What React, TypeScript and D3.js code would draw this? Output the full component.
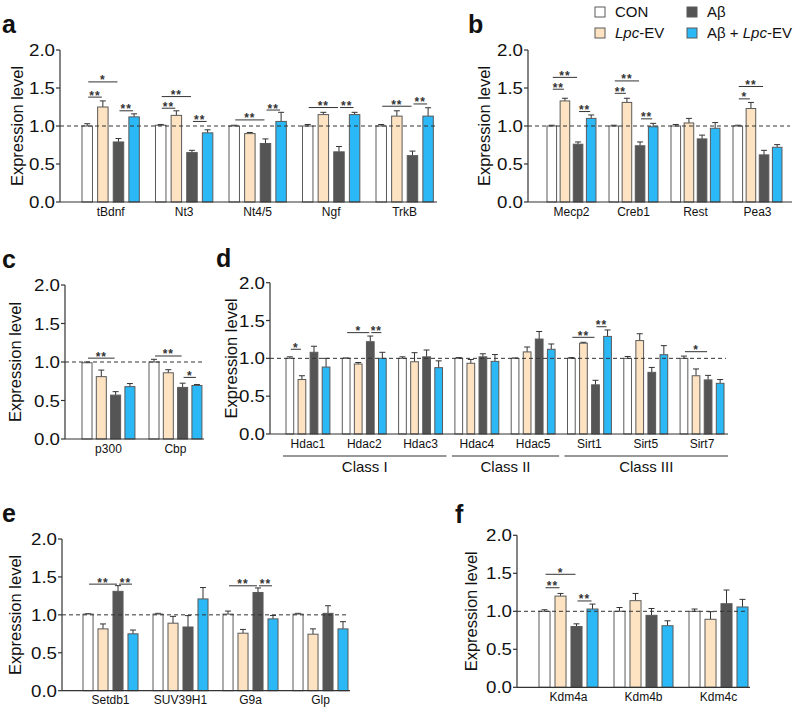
import React from "react";
import * as d3 from "d3";

const FONT = "'Liberation Sans', Arial, Helvetica, sans-serif";
const SERIES = ["CON", "Lpc-EV", "Aβ", "Aβ + Lpc-EV"];
const FILLS = ["#ffffff", "#fde3c1", "#555555", "#2ab8f6"];
const STROKE = "#5a5a5a";
const INK = "#333333";
const TICKS = [0, 0.5, 1, 1.5, 2];

// ---------- Panel a ----------
const aCats = ["tBdnf", "Nt3", "Nt4/5", "Ngf", "TrkB"];
const aMeans = [
  [1.0, 1.01, 1.0, 1.0, 1.0],
  [1.25, 1.14, 0.9, 1.15, 1.13],
  [0.79, 0.65, 0.77, 0.66, 0.61],
  [1.12, 0.91, 1.06, 1.15, 1.13],
];
const aErrs = [
  [0.03, 0.01, 0.01, 0.02, 0.02],
  [0.08, 0.06, 0.015, 0.03, 0.07],
  [0.045, 0.03, 0.06, 0.07, 0.06],
  [0.04, 0.04, 0.12, 0.03, 0.11],
];
const aSig: [number, number, number, number, string][] = [
  [0, 0, 2, 1.58, "*"], [0, 0, 1, 1.38, "**"], [0, 2, 3, 1.2, "**"],
  [1, 0, 2, 1.387, "**"], [1, 0, 1, 1.234, "**"], [1, 2, 3, 1.06, "**"],
  [2, 0, 2, 1.08, "**"], [2, 2, 3, 1.21, "**"],
  [3, 0, 2, 1.243, "**"], [3, 2, 3, 1.243, "**"],
  [4, 0, 2, 1.26, "**"], [4, 2, 3, 1.29, "**"],
];

// ---------- Panel b ----------
const bCats = ["Mecp2", "Creb1", "Rest", "Pea3"];
const bMeans = [
  [1.0, 1.0, 1.0, 1.0],
  [1.33, 1.31, 1.04, 1.23],
  [0.76, 0.74, 0.83, 0.62],
  [1.1, 0.99, 0.97, 0.72],
];
const bErrs = [
  [0.01, 0.01, 0.02, 0.01],
  [0.035, 0.055, 0.06, 0.08],
  [0.03, 0.05, 0.05, 0.06],
  [0.045, 0.045, 0.075, 0.035],
];
const bSig: [number, number, number, number, string][] = [
  [0, 0, 1, 1.484, "**"], [0, 0, 2, 1.64, "**"], [0, 2, 3, 1.19, "**"],
  [1, 0, 1, 1.43, "**"], [1, 0, 2, 1.593, "**"], [1, 2, 3, 1.094, "**"],
  [3, 0, 1, 1.357, "*"], [3, 0, 2, 1.52, "**"],
];

// ---------- Panel c ----------
const cCats = ["p300", "Cbp"];
const cMeans = [
  [0.99, 1.0],
  [0.81, 0.86],
  [0.57, 0.67],
  [0.68, 0.695],
];
const cErrs = [
  [0.01, 0.035],
  [0.085, 0.04],
  [0.045, 0.055],
  [0.04, 0.012],
];
const cSig: [number, number, number, number, string][] = [
  [0, 0, 2, 1.05, "**"], [1, 0, 2, 1.078, "**"], [1, 2, 3, 0.8, "*"],
];

// ---------- Panel d ----------
const dCats = ["Hdac1", "Hdac2", "Hdac3", "Hdac4", "Hdac5", "Sirt1", "Sirt5", "Sirt7"];
const dMeans = [
  [1.0, 1.0, 1.0, 1.0, 1.0, 1.0, 1.0, 1.0],
  [0.72, 0.925, 0.955, 0.935, 1.085, 1.2, 1.235, 0.77],
  [1.08, 1.22, 1.02, 1.02, 1.255, 0.65, 0.815, 0.715],
  [0.885, 1.0, 0.877, 0.96, 1.12, 1.29, 1.048, 0.67],
];
const dErrs = [
  [0.02, 0.005, 0.02, 0.01, 0.005, 0.01, 0.025, 0.03],
  [0.05, 0.02, 0.12, 0.05, 0.065, 0.012, 0.09, 0.09],
  [0.08, 0.075, 0.09, 0.04, 0.1, 0.06, 0.065, 0.06],
  [0.115, 0.08, 0.09, 0.09, 0.07, 0.085, 0.12, 0.05],
];
const dSig: [number, number, number, number, string][] = [
  [0, 0, 1, 1.12, "*"], [1, 0, 2, 1.34, "*"], [1, 2, 3, 1.34, "**"],
  [5, 0, 2, 1.278, "**"], [5, 2, 3, 1.418, "**"], [7, 0, 2, 1.088, "*"],
];
const dClasses = ["Class I", "Class II", "Class III"];
const dClassSpans = [[0, 2], [3, 4], [5, 7]];

// ---------- Panel e ----------
const eCats = ["Setdb1", "SUV39H1", "G9a", "Glp"];
const eMeans = [
  [1.01, 1.01, 1.01, 1.01],
  [0.815, 0.89, 0.758, 0.745],
  [1.31, 0.84, 1.295, 1.02],
  [0.75, 1.21, 0.947, 0.815],
];
const eErrs = [
  [0.005, 0.01, 0.04, 0.01],
  [0.065, 0.09, 0.05, 0.07],
  [0.075, 0.15, 0.06, 0.1],
  [0.05, 0.15, 0.045, 0.095],
];
const eSig: [number, number, number, number, string][] = [
  [0, 0, 2, 1.405, "**"], [0, 2, 3, 1.405, "**"],
  [2, 0, 2, 1.383, "**"], [2, 2, 3, 1.383, "**"],
];

// ---------- Panel f ----------
const fCats = ["Kdm4a", "Kdm4b", "Kdm4c"];
const fMeans = [
  [1.0, 1.0, 1.0],
  [1.2, 1.14, 0.895],
  [0.8, 0.947, 1.1],
  [1.03, 0.81, 1.057],
];
const fErrs = [
  [0.02, 0.05, 0.03],
  [0.035, 0.095, 0.1],
  [0.035, 0.09, 0.18],
  [0.065, 0.065, 0.1],
];
const fSig: [number, number, number, number, string][] = [
  [0, 0, 2, 1.487, "*"], [0, 0, 1, 1.31, "**"], [0, 2, 3, 1.136, "**"],
];

interface PanelCfg {
  letter: string; lx: number; ly: number;
  cats: string[]; means: number[][]; errs: number[][];
  sig: [number, number, number, number, string][];
  axisX: number; axisEnd: number; y0: number; y2: number;
  bandStart: number; step: number; pad: number; innerPad: number;
  titleX: number;
  classes?: string[]; classSpans?: number[][];
}

const panels: PanelCfg[] = [
  { letter: "a", lx: 2, ly: 33, cats: aCats, means: aMeans, errs: aErrs, sig: aSig,
    axisX: 60, axisEnd: 437, y0: 202, y2: 50, bandStart: 82, step: 73.5, pad: 0.22, innerPad: 0.33, titleX: 17 },
  { letter: "b", lx: 468, ly: 33, cats: bCats, means: bMeans, errs: bErrs, sig: bSig,
    axisX: 528, axisEnd: 792, y0: 202, y2: 50, bandStart: 547, step: 62, pad: 0.21, innerPad: 0.27, titleX: 484 },
  { letter: "c", lx: 2, ly: 268, cats: cCats, means: cMeans, errs: cErrs, sig: cSig,
    axisX: 65, axisEnd: 204, y0: 439, y2: 285, bandStart: 82, step: 67, pad: 0.21, innerPad: 0.3, titleX: 15 },
  { letter: "d", lx: 216, ly: 267, cats: dCats, means: dMeans, errs: dErrs, sig: dSig,
    axisX: 270, axisEnd: 728, y0: 434, y2: 282.7, bandStart: 286, step: 56.3, pad: 0.22, innerPad: 0.36, titleX: 231,
    classes: dClasses, classSpans: dClassSpans },
  { letter: "e", lx: 2, ly: 522, cats: eCats, means: eMeans, errs: eErrs, sig: eSig,
    axisX: 62, axisEnd: 350, y0: 690.7, y2: 539, bandStart: 83, step: 70, pad: 0.214, innerPad: 0.33, titleX: 15 },
  { letter: "f", lx: 455, ly: 523, cats: fCats, means: fMeans, errs: fErrs, sig: fSig,
    axisX: 517, axisEnd: 750, y0: 687.3, y2: 535.3, bandStart: 539, step: 75, pad: 0.213, innerPad: 0.31, titleX: 471 },
];

function Panel({ c }: { c: PanelCfg }) {
  const y = d3.scaleLinear().domain([0, 2]).range([c.y0, c.y2]);
  const n = c.cats.length;
  const x = d3.scaleBand<string>()
    .domain(c.cats)
    .range([c.bandStart, c.bandStart + c.step * (n - c.pad)])
    .paddingInner(c.pad)
    .paddingOuter(0);
  const xi = d3.scaleBand<string>()
    .domain(SERIES)
    .range([0, x.bandwidth()])
    .paddingInner(c.innerPad)
    .paddingOuter(0);
  const bw = xi.bandwidth();
  const fmt = d3.format(".1f");
  const barCenter = (ci: number, si: number) =>
    (x(c.cats[ci]) as number) + (xi(SERIES[si]) as number) + bw / 2;

  return (
    <g>
      <text x={c.lx} y={c.ly} fontFamily={FONT} fontWeight="bold" fontSize={25} fill="#111">{c.letter}</text>
      {c.cats.map((cat, ci) =>
        SERIES.map((s, si) => {
          const v = c.means[si][ci];
          const e = c.errs[si][ci];
          const bx = (x(cat) as number) + (xi(s) as number);
          const cx = bx + bw / 2;
          return (
            <g key={cat + s}>
              <line x1={cx} x2={cx} y1={y(v)} y2={y(v + e)} stroke={INK} strokeWidth={1} />
              <line x1={cx - 3} x2={cx + 3} y1={y(v + e)} y2={y(v + e)} stroke={INK} strokeWidth={1} />
              <rect x={bx} y={y(v)} width={bw} height={y(0) - y(v)} fill={FILLS[si]} stroke={STROKE} strokeWidth={1} />
            </g>
          );
        })
      )}
      <line x1={c.axisX} x2={c.axisEnd - 2} y1={y(1)} y2={y(1)} stroke={INK} strokeWidth={1} strokeDasharray="4,3" />
      <line x1={c.axisX} x2={c.axisX} y1={y(0)} y2={y(2)} stroke={INK} strokeWidth={1.2} />
      <line x1={c.axisX} x2={c.axisEnd} y1={y(0)} y2={y(0)} stroke={INK} strokeWidth={1.2} />
      {TICKS.map((t) => (
        <g key={t}>
          <line x1={c.axisX - 4} x2={c.axisX} y1={y(t)} y2={y(t)} stroke={INK} strokeWidth={1.2} />
          <text x={c.axisX - 5} y={y(t)} dy="0.36em" textAnchor="end" fontFamily={FONT} fontSize={17}
            textLength={26} lengthAdjust="spacingAndGlyphs" fill="#111">{fmt(t)}</text>
        </g>
      ))}
      <text transform={`translate(${c.titleX},${(c.y0 + c.y2) / 2}) rotate(-90)`} textAnchor="middle"
        dy="0.35em" fontFamily={FONT} fontSize={16.5} fill="#111">Expression level</text>
      {c.cats.map((cat) => (
        <text key={cat} x={(x(cat) as number) + x.bandwidth() / 2} y={c.y0 + 13.5} textAnchor="middle"
          fontFamily={FONT} fontSize={12} fill="#111">{cat}</text>
      ))}
      {c.sig.map(([ci, s1, s2, lv, lab], i) => {
        const x1 = barCenter(ci, s1) + 1;
        const x2 = barCenter(ci, s2) - 1;
        const yy = y(lv);
        return (
          <g key={"s" + i}>
            <line x1={x1} x2={x2} y1={yy} y2={yy} stroke={INK} strokeWidth={1} />
            <text x={(x1 + x2) / 2} y={yy + 2.5} textAnchor="middle" fontFamily={FONT} fontSize={12}
              fontWeight="bold" letterSpacing={1} fill={INK}>{lab}</text>
          </g>
        );
      })}
      {c.classes && c.classSpans &&
        c.classes.map((cl, k) => {
          const [i0, i1] = c.classSpans![k];
          const xs = (x(c.cats[i0]) as number) - 3;
          const xe = (x(c.cats[i1]) as number) + x.bandwidth() + 4;
          return (
            <g key={cl}>
              <line x1={xs} x2={xe} y1={c.y0 + 22} y2={c.y0 + 22} stroke={INK} strokeWidth={1.2} />
              <text x={(xs + xe) / 2} y={c.y0 + 38} textAnchor="middle" fontFamily={FONT} fontSize={15} fill="#111">{cl}</text>
            </g>
          );
        })}
    </g>
  );
}

function Legend() {
  const items = [
    { x: 595, y: 7, i: 0 },
    { x: 595, y: 28, i: 1 },
    { x: 687, y: 7, i: 2 },
    { x: 687, y: 28, i: 3 },
  ];
  const label = (i: number) => {
    if (i === 0) return <tspan>CON</tspan>;
    if (i === 1) return (<><tspan fontStyle="italic">Lpc</tspan><tspan>-EV</tspan></>);
    if (i === 2) return <tspan>Aβ</tspan>;
    return (<><tspan>Aβ + </tspan><tspan fontStyle="italic">Lpc</tspan><tspan>-EV</tspan></>);
  };
  return (
    <g>
      {items.map((it) => (
        <g key={it.i}>
          <rect x={it.x} y={it.y} width={10} height={10} fill={FILLS[it.i]} stroke={STROKE} strokeWidth={1} />
          <text x={it.x + 20} y={it.y + 10} fontFamily={FONT} fontSize={15} fill="#111">{label(it.i)}</text>
        </g>
      ))}
    </g>
  );
}

export default function App() {
  return (
    <svg width={800} height={711} style={{ position: "absolute", left: 0, top: 0, background: "#fff" }}>
      <rect width={800} height={711} fill="#fff" />
      {panels.map((p) => (
        <Panel key={p.letter} c={p} />
      ))}
      <Legend />
    </svg>
  );
}
